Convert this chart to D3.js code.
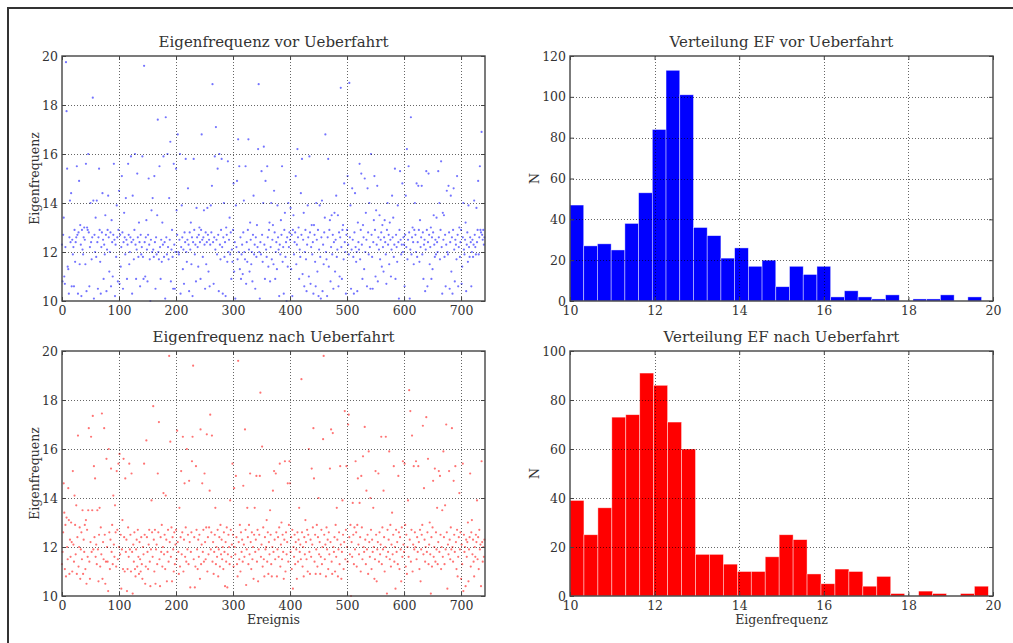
<!DOCTYPE html>
<html><head><meta charset="utf-8">
<script src="https://cdn.jsdelivr.net/npm/d3@7"></script>
<style>
html,body{margin:0;padding:0;background:#fff;}
svg{display:block;font-family:"DejaVu Serif",serif;}
</style></head>
<body><svg id="chart" width="1013" height="643"></svg>
<script>
// ---------- DATA ----------
const titles = ["Eigenfrequenz vor Ueberfahrt","Verteilung EF vor Ueberfahrt","Eigenfrequenz nach Ueberfahrt","Verteilung EF nach Ueberfahrt"];
const scatterXTicks = [0,100,200,300,400,500,600,700];
const scatterYTicks = [10,12,14,16,18,20];
const histXTicks = [10,12,14,16,18,20];
const histVorYTicks = [0,20,40,60,80,100,120];
const histNachYTicks = [0,20,40,60,80,100];

const efVor = [
12.3,10.8,12.7,13.4,11.0,10.7,12.2,19.75,17.75,15.4,11.4,11.3,10.3,12.6,14.1,12.4,14.4,10.6,12.5,11.9,
12.2,10.6,12.9,11.6,12.4,12.6,15.5,12.7,10.3,12.8,14.9,11.5,13.1,12.3,10.2,12.9,12.1,11.9,12.6,13.0,
12.5,11.5,15.6,10.4,13.0,12.9,16.0,12.8,10.6,12.2,14.0,12.4,11.7,12.6,18.3,14.1,10.1,12.7,12.0,13.4,
11.8,14.1,12.4,10.5,12.6,15.4,12.9,11.6,10.3,12.2,12.8,14.4,12.5,10.9,12.3,11.9,13.5,12.7,10.4,12.1,
12.9,14.3,12.6,11.2,12.0,12.8,10.6,13.3,12.4,11.0,12.7,15.6,12.5,10.2,12.3,11.8,13.9,12.6,10.8,12.9,
14.5,10.7,12.7,11.4,12.2,15.1,12.8,10.5,12.4,13.6,12.6,11.9,14.2,12.5,10.9,12.3,15.6,12.7,11.5,12.0,
12.6,15.9,12.4,10.3,14.3,12.5,11.7,12.9,16.0,12.3,10.9,12.1,15.2,12.6,11.8,13.2,12.4,10.6,12.7,11.9,
12.2,15.9,11.8,10.9,19.6,12.4,11.0,12.6,13.3,12.1,10.8,12.7,15.0,12.3,11.7,10.0,12.5,13.7,12.0,14.2,
12.1,11.8,15.1,12.4,10.5,12.6,11.9,13.5,17.4,12.0,11.7,15.5,12.2,10.9,12.5,11.6,13.2,12.3,15.9,11.8,
12.4,10.1,17.5,12.6,11.9,16.0,12.2,11.7,14.2,12.5,16.5,10.8,12.1,12.9,11.8,10.5,15.6,12.3,10.5,12.0,
15.4,13.7,12.7,16.8,12.0,11.9,12.5,16.0,10.3,12.2,13.9,12.6,11.3,12.1,10.7,12.8,12.4,15.8,12.0,11.6,
12.5,14.6,12.3,10.4,12.8,12.1,13.2,11.5,12.6,10.2,12.4,15.8,12.9,11.9,12.3,10.8,13.8,12.6,12.2,11.4,
12.7,13.0,12.4,10.9,12.9,16.8,12.5,11.8,12.6,13.7,12.3,10.5,12.8,11.5,12.4,13.8,12.7,11.2,12.5,10.6,
12.3,13.9,12.8,14.7,18.85,12.4,10.7,12.6,15.9,12.1,17.1,12.5,11.9,15.4,12.7,10.4,16.0,12.3,11.7,12.9,
15.8,12.2,10.3,12.6,14.0,11.8,12.4,10.2,13.0,12.7,11.6,15.7,12.0,12.5,13.4,11.9,12.8,10.9,12.1,11.6,
12.9,14.8,11.2,12.4,10.1,13.9,12.2,14.9,11.7,16.6,12.0,15.5,11.3,12.6,10.9,11.9,12.3,11.1,12.8,14.1,
12.0,11.7,15.5,10.7,12.4,11.6,12.9,16.6,12.1,11.2,13.2,12.5,11.5,12.0,10.8,12.7,14.3,11.9,12.3,10.5,
12.6,11.8,13.1,12.2,16.2,18.85,12.0,10.1,12.4,11.9,15.3,12.7,11.6,14.0,16.3,12.3,10.9,14.9,12.1,11.8,
15.5,12.6,11.4,12.9,13.2,10.8,12.2,14.0,11.7,12.5,13.1,11.5,14.5,12.8,10.9,12.0,12.4,11.3,13.9,12.6,
12.1,10.2,12.3,11.9,13.3,12.7,15.5,11.6,12.2,10.3,12.9,13.6,11.8,12.4,10.0,12.6,11.4,14.0,12.2,12.8,
12.5,13.8,11.3,12.7,10.2,12.9,13.5,11.9,12.4,12.8,15.1,11.5,12.3,16.2,12.6,13.0,10.9,12.1,11.8,14.4,
12.7,15.8,11.1,12.5,13.6,10.6,12.0,12.9,11.7,10.4,12.3,13.9,12.6,11.0,15.9,12.8,10.7,12.2,13.1,11.9,
12.4,10.3,13.1,12.7,11.6,10.6,14.0,12.5,11.2,12.9,10.2,12.1,13.9,11.8,10.1,12.6,14.1,10.4,12.3,11.5,
12.8,13.4,16.8,12.0,11.7,10.2,12.6,15.8,11.4,12.9,13.3,10.8,12.2,13.5,11.9,12.7,10.5,12.4,13.6,11.2,
12.5,14.3,11.8,12.1,13.5,10.6,12.8,11.0,12.6,18.7,12.2,10.9,12.9,13.1,11.7,14.8,12.4,12.0,10.3,12.7,
12.9,15.1,12.3,11.9,18.9,12.6,13.9,10.5,12.1,14.6,12.5,11.8,10.3,12.8,14.4,12.2,11.6,12.0,10.4,13.2,
12.4,12.1,15.6,11.7,12.9,15.2,12.3,10.9,13.1,12.6,11.3,15.0,12.0,13.6,12.5,10.6,14.6,12.8,11.9,14.0,
12.2,10.5,16.0,12.7,11.8,10.5,12.4,13.3,15.1,12.9,11.0,13.7,12.3,14.7,10.8,12.6,12.1,13.5,11.7,12.5,
12.8,11.4,13.1,12.2,11.2,12.6,13.3,12.4,11.9,10.7,12.9,14.0,12.3,12.7,11.5,13.2,12.5,11.0,12.1,14.3,
12.6,13.4,11.8,12.3,15.4,10.9,12.7,12.2,11.6,13.9,12.4,10.1,12.9,15.3,12.5,11.9,12.3,14.8,12.0,12.6,
12.3,10.6,12.7,14.3,12.2,16.2,11.7,12.5,15.5,12.8,10.1,12.1,17.5,11.9,12.6,13.0,12.4,11.5,12.9,14.0,
12.7,12.0,14.8,11.8,12.4,14.7,12.9,11.6,13.3,12.2,12.6,14.7,11.9,12.8,10.9,12.3,12.5,10.4,12.1,15.3,
12.9,10.6,12.4,15.2,12.7,11.5,12.2,13.0,10.9,12.6,11.3,12.8,13.5,12.3,11.8,12.5,11.9,13.4,12.4,12.0,
15.3,12.6,14.0,11.7,12.9,15.7,12.2,10.3,13.6,12.5,13.5,11.8,12.7,10.6,12.3,14.5,12.0,11.9,14.7,12.8,
10.5,12.4,14.3,11.2,12.6,10.3,12.9,14.6,12.1,10.8,12.5,12.3,11.7,15.1,12.7,10.6,12.2,13.0,11.8,12.4,
12.9,10.7,11.4,12.6,14.0,12.1,11.9,12.5,13.2,10.4,12.3,12.8,11.6,13.9,12.2,11.8,12.6,12.4,10.6,12.0,
12.5,11.8,12.3,14.1,12.7,12.2,11.9,13.8,12.4,12.9,14.9,11.9,12.6,15.5,12.9,12.8,16.9,12.7,12.5,12.9,
12.3,12.6
];

const efNach = [
11.3,11.8,12.6,14.6,13.4,11.1,12.9,10.8,13.2,12.0,11.5,14.4,13.1,10.9,12.3,11.6,13.0,12.2,11.0,15.1,
12.1,11.4,14.1,12.9,11.7,13.7,10.9,12.4,16.55,11.2,12.0,12.8,10.7,11.9,12.6,11.5,13.5,10.9,12.3,11.8,
12.9,11.1,13.1,10.5,12.7,11.6,13.5,16.85,11.4,10.7,12.2,16.5,11.8,13.5,17.35,11.9,15.3,12.4,14.8,11.6,
12.1,11.3,13.5,11.9,10.6,12.5,13.6,11.2,12.8,11.7,17.45,10.7,12.2,11.5,16.85,12.5,10.5,11.4,15.6,12.0,
11.4,10.2,16.0,12.6,11.1,12.3,15.2,11.8,12.9,11.3,14.1,12.1,11.6,13.7,12.6,11.2,15.1,12.7,11.5,15.4,
12.0,15.8,11.7,12.5,10.3,11.9,13.1,11.1,15.6,12.4,11.0,14.8,11.8,12.3,10.2,11.1,12.8,11.6,15.4,11.9,
12.5,11.0,15.0,11.8,10.1,12.1,11.4,12.6,11.1,10.8,11.9,12.3,11.2,12.7,11.6,10.9,12.2,11.5,11.0,12.4,
11.3,10.7,12.0,11.7,15.4,12.5,10.5,11.2,16.35,12.4,11.8,11.1,12.1,12.7,11.4,10.4,11.9,13.9,12.6,11.6,
17.75,12.3,11.0,12.7,10.5,11.9,12.1,11.3,15.0,12.6,17.1,11.5,10.4,12.4,11.8,12.9,11.2,12.0,14.2,11.7,
12.5,11.1,14.1,12.3,10.6,11.8,12.7,11.4,19.8,12.2,16.3,11.6,12.8,10.6,12.4,11.9,11.0,12.6,11.3,12.1,
12.7,11.5,16.75,12.2,11.8,10.9,13.6,11.2,12.4,15.1,11.7,12.6,16.5,11.0,12.3,14.6,11.6,12.8,11.4,16.0,
11.9,12.5,11.3,14.7,12.2,10.35,11.8,12.6,15.5,16.5,19.4,11.5,12.4,10.35,11.2,15.3,12.7,11.9,11.1,12.3,
11.6,12.5,10.7,16.8,11.3,12.1,14.6,11.8,12.7,11.4,15.0,12.2,11.5,12.8,16.6,11.0,12.4,11.7,12.8,14.3,
17.4,11.9,12.6,16.55,11.4,12.2,10.9,11.8,12.5,13.6,11.3,12.0,11.6,12.7,10.8,11.9,12.4,11.2,12.9,11.7,
12.3,11.5,12.0,11.1,12.6,11.8,10.4,12.2,11.4,12.8,10.35,11.7,12.5,12.0,11.3,13.9,12.7,11.6,12.1,15.4,
12.5,11.2,14.4,12.0,11.7,14.9,12.4,11.3,10.8,19.6,12.2,11.5,12.9,11.0,12.6,11.8,12.3,11.4,14.5,12.1,
11.6,16.8,12.7,10.45,11.9,13.6,12.4,11.3,12.9,11.7,15.0,12.2,11.1,12.6,11.5,12.0,10.7,12.5,13.6,11.8,
12.3,14.9,11.4,12.7,10.6,11.9,12.5,14.9,18.3,11.6,12.1,16.1,11.2,12.8,11.5,10.8,12.4,11.9,12.0,13.1,
11.4,12.6,10.9,12.2,11.7,13.5,12.5,11.3,10.8,12.0,14.3,11.8,15.1,12.3,11.5,15.0,12.6,10.8,11.9,12.4,
11.6,12.8,15.4,11.2,12.1,13.0,11.5,12.5,11.8,10.7,12.3,15.5,11.0,12.6,11.7,12.2,14.6,11.4,12.9,15.5,
14.6,11.8,12.4,11.1,12.7,10.3,12.0,11.6,12.5,11.3,12.2,11.9,10.7,12.6,11.4,12.3,13.6,11.8,12.1,11.5,
18.85,12.6,11.2,12.0,10.8,12.4,11.7,13.1,12.2,11.5,12.7,11.0,12.5,16.0,11.8,10.9,12.3,11.6,15.2,12.1,
12.8,16.85,14.8,11.4,12.5,10.9,11.9,12.9,11.2,12.4,14.0,11.7,12.2,10.9,11.6,12.7,11.3,12.0,16.4,19.8,
12.5,11.5,12.1,10.8,12.8,11.9,12.3,11.1,12.6,11.7,15.2,12.2,16.8,11.4,10.9,16.65,12.0,11.8,12.4,11.0,
12.9,11.6,13.6,12.3,10.8,11.9,12.6,11.3,15.3,12.1,10.7,11.8,13.9,12.5,11.1,12.2,17.55,11.5,12.7,15.3,
12.0,11.4,17.0,17.4,12.4,11.7,12.9,10.0,12.2,11.6,13.8,12.5,11.3,12.8,11.9,15.5,12.6,11.2,12.9,14.8,
12.1,11.7,13.8,12.4,11.0,14.9,12.8,11.5,15.7,12.0,11.8,16.9,12.3,11.3,14.3,11.9,12.5,10.9,15.9,12.2,
11.6,14.0,12.7,11.1,12.3,11.8,13.6,12.0,10.7,11.5,15.1,12.5,10.6,11.9,12.2,15.0,11.4,12.6,11.7,12.1,
16.5,11.3,12.8,11.9,14.3,12.4,11.0,12.0,16.5,11.6,10.1,12.7,11.8,12.3,15.9,11.5,12.9,11.2,12.1,13.4,
11.7,12.5,15.3,11.4,12.0,10.3,12.7,11.8,12.2,11.3,14.9,12.6,11.1,12.4,11.9,10.6,12.8,11.6,15.5,12.1,
11.8,15.4,12.9,11.2,12.5,10.9,12.0,13.9,11.6,18.4,12.3,17.55,11.4,12.7,16.55,11.0,12.1,15.3,11.9,12.6,
12.0,15.5,11.5,12.4,11.8,15.3,12.2,11.1,12.7,10.6,11.9,12.5,12.9,16.95,11.7,14.4,12.3,11.4,12.0,17.3,
11.8,12.6,15.6,11.3,12.1,13.0,11.7,10.1,12.4,11.2,12.8,14.7,11.6,12.0,15.2,11.4,12.6,11.9,13.6,11.3,
12.2,15.1,11.8,14.9,12.5,11.1,12.0,13.5,11.6,15.9,12.4,11.3,13.7,11.9,17.0,12.6,10.3,12.1,11.7,15.1,
12.3,11.5,12.8,11.9,16.85,12.0,11.4,14.7,12.5,11.8,15.3,12.2,11.1,12.7,10.8,11.6,12.4,14.2,11.9,12.6,
10.7,12.1,11.3,15.4,10.2,12.5,11.8,12.0,10.4,12.3,11.6,12.2,13.0,10.6,11.9,12.4,15.0,11.2,12.6,13.1,
11.7,12.3,11.4,10.8,12.0,11.6,12.5,12.2,13.9,11.5,12.4,11.1,12.7,11.9,12.1,10.4,15.5,12.2,11.4,12.0,
11.6,12.3
];

const histVorCounts = [47,27,28,25,38,53,84,113,101,36,32,21,26,17,20,7,17,13,17,2,5,2,1,3,0,1,1,3,0,2];
const histVorRange = [10.0, 19.73];
const histNachCounts = [39,25,36,73,74,91,86,71,60,17,17,13,10,10,16,25,23,9,5,11,10,4,8,1,0,2,1,0,1,4];
const histNachRange = [10.0, 19.89];

// ---------- DRAW ----------
const svg = d3.select("#chart");
const TEXT = "#333";
const FRAME = "#444";

// figure frame (left & top edge)
svg.append("path").attr("d","M8,643V8H1013").attr("fill","none").attr("stroke","#333").attr("stroke-width",2);

const cols = [[62,485],[570,993]];
const rows = [[56,301],[351,596]];

function panel(ci, ri, title, xDomain, yDomain, xTicks, yTicks, xLabel, yLabel, yLabelOff) {
  const [x0,x1] = cols[ci], [y0,y1] = rows[ri];
  const x = d3.scaleLinear().domain(xDomain).range([x0,x1]);
  const y = d3.scaleLinear().domain(yDomain).range([y1,y0]);
  const g = svg.append("g");
  const marks = g.append("g");
  const over = g.append("g");
  const inner = xTicks.filter(t => t > xDomain[0] && t < xDomain[1]);
  const innerY = yTicks.filter(t => t > yDomain[0] && t < yDomain[1]);
  over.selectAll(".gx").data(inner).join("line")
    .attr("x1",d=>Math.round(x(d))+0.5).attr("x2",d=>Math.round(x(d))+0.5).attr("y1",y0).attr("y2",y1)
    .attr("stroke","#000").attr("stroke-opacity",0.6).attr("stroke-dasharray","1,2");
  over.selectAll(".gy").data(innerY).join("line")
    .attr("y1",d=>Math.round(y(d))+0.5).attr("y2",d=>Math.round(y(d))+0.5).attr("x1",x0).attr("x2",x1)
    .attr("stroke","#000").attr("stroke-opacity",0.6).attr("stroke-dasharray","1,2");
  const ax = d3.axisBottom(x).tickValues(xTicks).tickFormat(d3.format("d")).tickSizeInner(-4).tickSizeOuter(0).tickPadding(5);
  const ay = d3.axisLeft(y).tickValues(yTicks).tickFormat(d3.format("d")).tickSizeInner(-4).tickSizeOuter(0).tickPadding(4);
  const axT = d3.axisTop(x).tickValues(xTicks).tickFormat("").tickSizeInner(-4).tickSizeOuter(0);
  const ayR = d3.axisRight(y).tickValues(yTicks).tickFormat("").tickSizeInner(-4).tickSizeOuter(0);
  over.append("g").attr("transform",`translate(0,${y1})`).call(ax);
  over.append("g").attr("transform",`translate(${x0},0)`).call(ay);
  over.append("g").attr("transform",`translate(0,${y0})`).call(axT);
  over.append("g").attr("transform",`translate(${x1},0)`).call(ayR);
  over.selectAll(".domain").remove();
  over.selectAll(".tick line").attr("stroke",FRAME);
  over.selectAll(".tick text").attr("fill",TEXT).style("font-family","DejaVu Serif").style("font-size","12.5px");
  over.append("rect").attr("x",x0).attr("y",y0).attr("width",x1-x0).attr("height",y1-y0)
    .attr("fill","none").attr("stroke",FRAME).attr("stroke-width",1.4);
  g.append("text").attr("x",(x0+x1)/2).attr("y",y0-9).attr("text-anchor","middle")
    .attr("fill",TEXT).style("font-size","15px").text(title);
  if (xLabel) g.append("text").attr("x",(x0+x1)/2).attr("y",y1+28).attr("text-anchor","middle")
    .attr("fill",TEXT).style("font-size","12.5px").text(xLabel);
  if (yLabel) g.append("text").attr("transform",`translate(${x0-yLabelOff},${(y0+y1)/2}) rotate(-90)`).attr("text-anchor","middle")
    .attr("fill",TEXT).style("font-size","12.5px").text(yLabel);
  return {x,y,marks};
}

function scatter(ci, ri, title, values, color, xLabel) {
  const p = panel(ci, ri, title, [0,742], [10,20], scatterXTicks, scatterYTicks, xLabel, "Eigenfrequenz", 23);
  p.marks.selectAll("circle").data(values).join("circle")
    .attr("cx",(d,i)=>p.x(i)).attr("cy",d=>p.y(d)).attr("r",1.1)
    .attr("fill",color).attr("fill-opacity",0.55);
}

function hist(ci, ri, title, counts, range, yMax, yTicks, color, xLabel) {
  const p = panel(ci, ri, title, [10,20], [0,yMax], histXTicks, yTicks, xLabel, "N", 31);
  const w = (range[1]-range[0])/counts.length;
  p.marks.selectAll("rect").data(counts).join("rect")
    .attr("x",(d,i)=>p.x(range[0]+i*w)).attr("width",(d,i)=>p.x(range[0]+(i+1)*w)-p.x(range[0]+i*w))
    .attr("y",d=>p.y(d)).attr("height",d=>p.y(0)-p.y(d))
    .attr("fill",color).attr("stroke","#fff").attr("stroke-width",0.7).attr("stroke-opacity",0.6);
}

scatter(0,0,titles[0],efVor,"#0000ff",null);
hist(1,0,titles[1],histVorCounts,histVorRange,120,histVorYTicks,"#0000ff",null);
scatter(0,1,titles[2],efNach,"#ff0000","Ereignis");
hist(1,1,titles[3],histNachCounts,histNachRange,100,histNachYTicks,"#ff0000","Eigenfrequenz");
</script></body></html>
